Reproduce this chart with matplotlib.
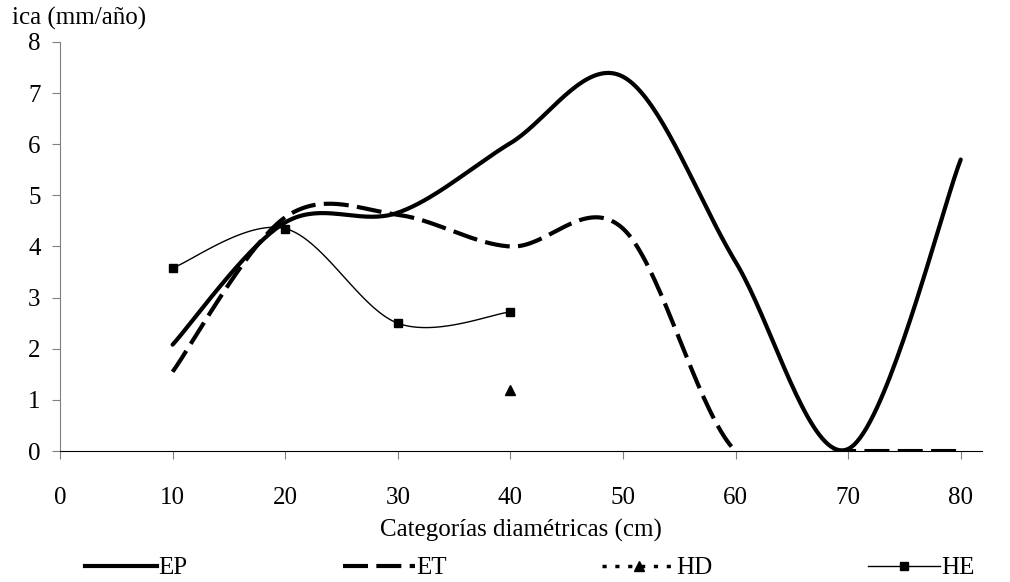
import matplotlib
matplotlib.use('Agg')
import matplotlib.pyplot as plt
from matplotlib.lines import Line2D
import numpy as np

# ── data ──
diam = [10, 20, 30, 40, 50, 60, 70, 80]
ep = [2.08, 4.47, 4.66, 6.02, 7.32, 3.70, 0.04, 5.70]
et = [1.55, 4.57, 4.62, 4.00, 4.35, 0.0, 0.0, 0.0]
he_x = [10, 20, 30, 40]
he = [3.58, 4.35, 2.50, 2.72]
hd_x = [40]
hd = [1.2]

plt.rcParams['font.family'] = ['Liberation Serif', 'DejaVu Serif']
FS = 18


def smooth(xs, ys, n=40):
    # Excel-like smoothed line (Catmull-Rom bezier)
    x = np.asarray(xs, float)
    y = np.asarray(ys, float)
    if len(x) < 3:
        return x, y
    px = np.concatenate([[x[0]], x, [x[-1]]])
    py = np.concatenate([[y[0]], y, [y[-1]]])
    outx, outy = [], []
    t = np.linspace(0, 1, n)
    for i in range(1, len(px) - 2):
        p0 = np.array([px[i], py[i]])
        p3 = np.array([px[i + 1], py[i + 1]])
        c1 = p0 + (np.array([px[i + 1], py[i + 1]]) - np.array([px[i - 1], py[i - 1]])) / 6
        c2 = p3 - (np.array([px[i + 2], py[i + 2]]) - np.array([px[i], py[i]])) / 6
        b = ((1 - t) ** 3)[:, None] * p0 + (3 * (1 - t) ** 2 * t)[:, None] * c1 \
            + (3 * (1 - t) * t ** 2)[:, None] * c2 + (t ** 3)[:, None] * p3
        outx.extend(b[:, 0])
        outy.extend(b[:, 1])
    return np.array(outx), np.array(outy)


fig = plt.figure(figsize=(10.1, 5.82), dpi=100)
ax = fig.add_axes([0.0594, 0.225, 0.913, 0.703])

sx, sy = smooth(diam, ep)
ax.plot(sx, sy, color='black', lw=3, solid_capstyle='round')
sx, sy = smooth(diam, et)
ax.plot(sx, sy, color='black', lw=3, dashes=(6, 2))
ax.plot(hd_x, hd, color='black', lw=2.5, dashes=(1.2, 2.5), marker='^', markersize=7)
sx, sy = smooth(he_x, he)
ax.plot(sx, sy, color='black', lw=1.0)
ax.plot(he_x, he, ls='none', marker='s', color='black', markersize=6)

ax.set_xlim(0, 81.9)
ax.set_ylim(0, 8)
ax.set_xticks(range(0, 90, 10))
ax.set_yticks(range(0, 9))
ax.tick_params(labelsize=FS, direction='out', colors='black')
ax.tick_params(axis='x', length=6, pad=20, color='#808080')
ax.tick_params(axis='y', length=6, pad=8, color='#808080')
for s in ['top', 'right']:
    ax.spines[s].set_visible(False)
ax.spines['left'].set_color('#808080')
ax.spines['bottom'].set_color('black')
ax.set_xlabel('Categorías diamétricas (cm)', fontsize=FS, labelpad=7)
fig.text(0.012, 0.948, 'ica (mm/año)', fontsize=FS, ha='left', va='bottom')

handles = [
    Line2D([], [], color='black', lw=3),
    Line2D([], [], color='black', lw=3, dashes=(6, 2)),
    Line2D([], [], color='black', lw=2.5, dashes=(1.2, 2.5), marker='^', markersize=7),
    Line2D([], [], color='black', lw=1.0, marker='s', markersize=6),
]
fig.legend(handles, ['EP', 'ET', 'HD', 'HE'], loc='center left', ncol=4,
           bbox_to_anchor=(0.084, 0.024, 0.881, 0.0), mode='expand', frameon=False,
           fontsize=FS, handlelength=2.9, handletextpad=0.05, borderpad=0,
           borderaxespad=0)

fig.savefig('out.png', dpi=100)
